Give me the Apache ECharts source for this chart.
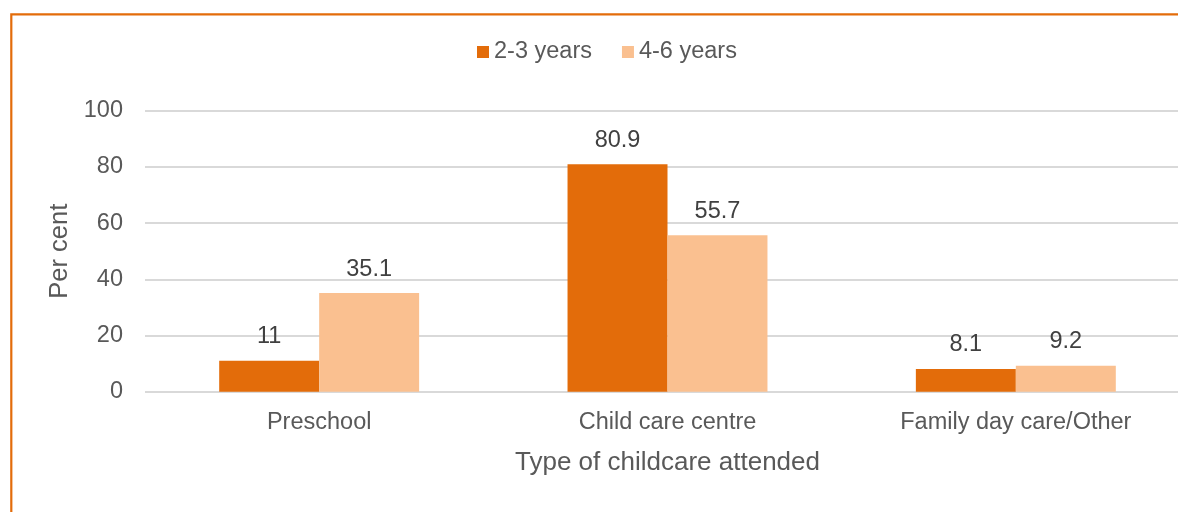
<!DOCTYPE html>
<html>
<head>
<meta charset="utf-8">
<script src="https://cdn.jsdelivr.net/npm/echarts@6/dist/echarts.min.js"></script>
<style>
  html, body { margin: 0; padding: 0; background: #fff; }
  #chart { width: 1178px; height: 512px; }
</style>
</head>
<body>
<div id="chart"></div>
<script>
  const categories = ['Preschool', 'Child care centre', 'Family day care/Other'];
  const seriesNames = ['2-3 years', '4-6 years'];
  const age23 = [11, 80.9, 8.1];
  const age46 = [35.1, 55.7, 9.2];
  const yTicks = [0, 20, 40, 60, 80, 100];

  const font = 'Liberation Sans, Arial, sans-serif';
  const chart = echarts.init(document.getElementById('chart'));

  const option = {
    animation: false,
    textStyle: { fontFamily: font },
    color: ['#E36C0A', '#FAC090'],
    // orange frame, only top and left edges are visible
    graphic: [{
      type: 'rect',
      shape: { x: 11.3, y: 14.3, width: 1200, height: 600 },
      style: { fill: 'none', stroke: '#E36C0A', lineWidth: 2.2 },
      silent: true
    }],
    legend: {
      left: 472,
      top: 35,
      itemWidth: 12,
      itemHeight: 12,
      itemGap: 30,
      icon: 'rect',
      textStyle: { fontSize: 23.5, color: '#595959', fontFamily: font },
      data: seriesNames
    },
    // plot runs a little past the right edge of the picture
    grid: {
      left: 145, width: 1045, top: 110.7, height: 281,
      containLabel: false, outerBoundsMode: 'none'
    },
    xAxis: {
      type: 'category',
      data: categories,
      name: 'Type of childcare attended',
      nameLocation: 'middle',
      nameGap: 58,
      nameTextStyle: { fontSize: 26, color: '#595959', fontFamily: font },
      axisLine: { show: false },
      axisTick: { show: false },
      axisLabel: { fontSize: 23.5, color: '#595959', margin: 19, fontFamily: font }
    },
    yAxis: {
      type: 'value',
      min: yTicks[0],
      max: yTicks[yTicks.length - 1],
      interval: 20,
      name: 'Per cent',
      nameLocation: 'middle',
      nameGap: 71,
      nameTextStyle: { fontSize: 25.5, color: '#595959', fontFamily: font },
      axisLine: { show: false },
      axisTick: { show: false },
      axisLabel: { fontSize: 23.5, color: '#595959', margin: 22, fontFamily: font },
      splitLine: { lineStyle: { color: '#D9D9D9', width: 2 } }
    },
    series: [
      {
        name: seriesNames[0],
        type: 'bar',
        data: age23,
        barGap: '0%',
        barCategoryGap: '42.6%',
        label: { show: true, position: 'top', distance: 12, fontSize: 23.5, color: '#404040', fontFamily: font }
      },
      {
        name: seriesNames[1],
        type: 'bar',
        data: age46,
        barGap: '0%',
        barCategoryGap: '42.6%',
        label: { show: true, position: 'top', distance: 12, fontSize: 23.5, color: '#404040', fontFamily: font }
      }
    ]
  };

  chart.setOption(option);
</script>
</body>
</html>
